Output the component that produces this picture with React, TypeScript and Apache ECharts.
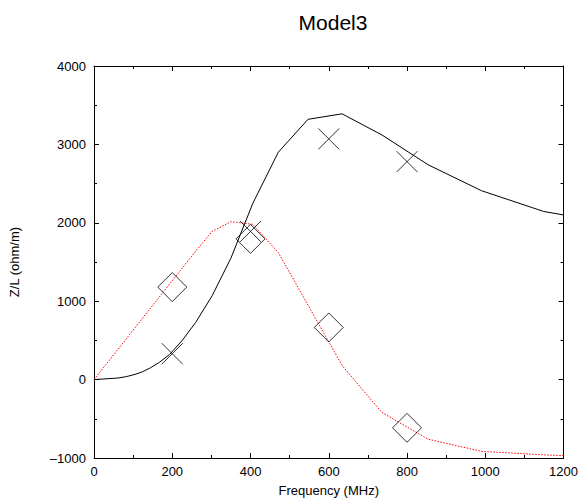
import React, { useEffect, useRef } from "react";
import * as echarts from "echarts";

const titleText = "Model3";
const xName = "Frequency (MHz)";
const yName = "Z/L (ohm/m)";

// Solid black curve
const freqBlack = [0, 61, 83, 107, 124, 144, 167, 193, 224, 260, 302, 350, 406, 471, 547, 634, 736, 854, 990, 1149, 1200];
const zBlack = [0, 20, 38, 70, 100, 150, 220, 320, 490, 730, 1070, 1550, 2250, 2900, 3320, 3390, 3120, 2740, 2410, 2145, 2100];

// Dotted red curve
const freqRed = [0, 260, 302, 350, 406, 471, 547, 634, 736, 854, 990, 1149, 1200];
const zRed = [0, 1640, 1890, 2015, 1980, 1620, 950, 180, -420, -760, -915, -960, -970];

// Marker points
const markFreq = [200, 400, 600, 800];
const crossVals = [330, 1890, 3070, 2780];
const diamondVals = [1180, 1795, 665, -615];

const FONT = "Liberation Sans, Arial, Helvetica, sans-serif";
const fmt = (v: number) => (v < 0 ? "\u2013" + Math.abs(v) : String(v));

export default function App() {
  const ref = useRef<HTMLDivElement>(null);
  useEffect(() => {
    if (!ref.current) return;
    const chart = echarts.init(ref.current, null, { renderer: "svg" });
    const axisLine = { show: true, onZero: false, lineStyle: { color: "#000", width: 1 } };
    const axisTick = { show: true, inside: true, length: 5, lineStyle: { color: "#000" } };
    const minorTick = { show: true, splitNumber: 2, length: 3, lineStyle: { color: "#000" } };
    const xBase = { type: "value", min: 0, max: 1200, interval: 200, axisLine, axisTick, minorTick, splitLine: { show: false } };
    const yBase = { type: "value", min: -1000, max: 4000, interval: 1000, axisLine, axisTick, minorTick, splitLine: { show: false } };
    chart.setOption({
      animation: false,
      backgroundColor: "#fff",
      title: {
        text: titleText,
        left: 328,
        top: 7,
        textAlign: "center",
        textStyle: { fontFamily: FONT, fontSize: 21, fontWeight: "normal", color: "#000" },
      },
      grid: { left: 92, right: 16, top: 66, bottom: 43, containLabel: false },
      xAxis: [
        {
          ...xBase,
          position: "bottom",
          name: xName,
          nameLocation: "middle",
          nameGap: 26,
          nameTextStyle: { fontFamily: FONT, fontSize: 13, color: "#000" },
          axisLabel: { fontFamily: FONT, fontSize: 13, color: "#000", margin: 7, formatter: fmt },
        },
        { ...xBase, position: "top", axisLabel: { show: false } },
      ],
      yAxis: [
        {
          ...yBase,
          position: "left",
          name: yName,
          nameLocation: "middle",
          nameGap: 73,
          nameTextStyle: { fontFamily: FONT, fontSize: 13, color: "#000" },
          axisLabel: { fontFamily: FONT, fontSize: 13, color: "#000", margin: 8, formatter: fmt },
        },
        { ...yBase, position: "right", axisLabel: { show: false } },
      ],
      series: [
        {
          type: "line",
          data: freqBlack.map((f, i) => [f, zBlack[i]]),
          showSymbol: false,
          symbol: "none",
          lineStyle: { color: "#000", width: 1 },
          z: 2,
        },
        {
          type: "line",
          data: freqRed.map((f, i) => [f, zRed[i]]),
          showSymbol: false,
          symbol: "none",
          lineStyle: { color: "#ff0000", width: 1, type: [1.5, 1.5] },
          z: 2,
        },
        {
          type: "scatter",
          data: markFreq.map((f, i) => [f, crossVals[i]]),
          symbol: "path://M0,0L10,10M10,0L0,10",
          symbolSize: 21,
          itemStyle: { color: "none", borderColor: "#000", borderWidth: 1 },
          z: 3,
        },
        {
          type: "scatter",
          data: markFreq.map((f, i) => [f, diamondVals[i]]),
          symbol: "diamond",
          symbolSize: 29,
          itemStyle: { color: "none", borderColor: "#000", borderWidth: 1 },
          z: 3,
        },
      ],
    });
    return () => chart.dispose();
  }, []);
  return <div ref={ref} style={{ width: 581, height: 502, position: "absolute", left: 0, top: 0 }} />;
}
